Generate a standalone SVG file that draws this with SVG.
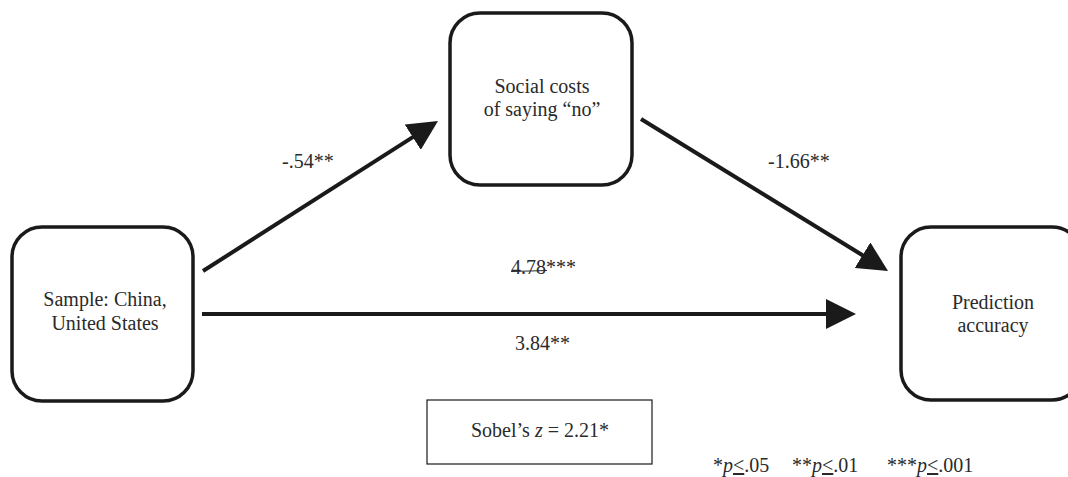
<svg xmlns="http://www.w3.org/2000/svg" width="1068" height="477" viewBox="0 0 1068 477">
<style>
.node{fill:#fff;stroke:#1a1a1a;stroke-width:3.5}
.t{font-family:'Liberation Serif','Times New Roman',serif;font-size:20px;fill:#2a2a2a}
.c{text-anchor:middle}
.edge{stroke:#1a1a1a;stroke-width:4;fill:none}
</style>
<defs>
<marker id="ah" markerUnits="userSpaceOnUse" viewBox="0 0 30 30" markerWidth="30" markerHeight="30" refX="2" refY="15" orient="auto">
<path d="M0,0 L30,15 L0,30 z" fill="#1a1a1a"/>
</marker>
</defs>
<rect width="1068" height="477" fill="#fff"/>
<g id="connectors">
<line class="edge" x1="203" y1="271" x2="414.4" y2="136.1" marker-end="url(#ah)"/>
<line class="edge" x1="641" y1="119" x2="864.2" y2="256.3" marker-end="url(#ah)"/>
<line class="edge" x1="202" y1="314" x2="828" y2="314" marker-end="url(#ah)"/>
<text class="t" x="282" y="168">-.54**</text>
<text class="t" x="768" y="168">-1.66**</text>
<text class="t" x="511" y="274">4.78***</text>
<line x1="511" y1="271.5" x2="547" y2="270.5" stroke="#2a2a2a" stroke-width="1.2"/>
<text class="t" x="515" y="350">3.84**</text>
</g>
<g id="sample">
<rect class="node" x="12" y="227" width="181" height="174" rx="30"/>
<text class="t c" x="105" y="306">Sample: China,</text>
<text class="t c" x="105" y="330">United States</text>
</g>
<g id="social-costs">
<rect class="node" x="450" y="13" width="182" height="172" rx="30"/>
<text class="t c" x="542" y="93">Social costs</text>
<text class="t c" x="542" y="116">of saying “no”</text>
</g>
<g id="prediction">
<rect class="node" x="901" y="227" width="181" height="173" rx="30"/>
<text class="t c" x="993" y="309">Prediction</text>
<text class="t c" x="993" y="332">accuracy</text>
</g>
<g id="sobel">
<rect x="427" y="400" width="225" height="64" fill="#fff" stroke="#1a1a1a" stroke-width="1.2"/>
<text class="t c" x="540" y="437">Sobel’s <tspan font-style="italic">z</tspan> = 2.21*</text>
</g>
<g id="legend">
<text class="t" x="713" y="472">*<tspan font-style="italic">p</tspan><tspan text-decoration="underline">&lt;</tspan>.05</text>
<text class="t" x="792" y="472">**<tspan font-style="italic">p</tspan><tspan text-decoration="underline">&lt;</tspan>.01</text>
<text class="t" x="887" y="472">***<tspan font-style="italic">p</tspan><tspan text-decoration="underline">&lt;</tspan>.001</text>
</g>
</svg>
